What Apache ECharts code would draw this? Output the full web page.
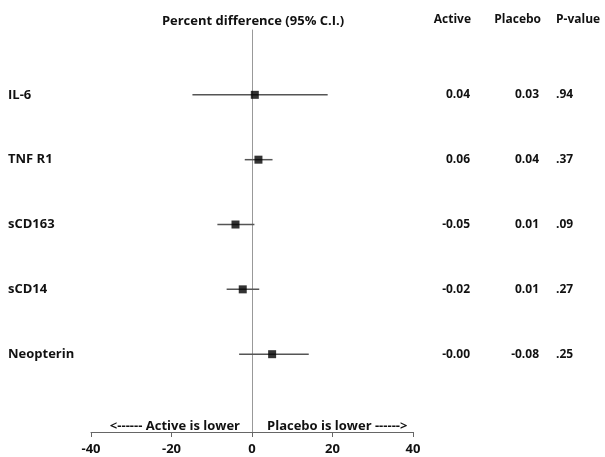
<!DOCTYPE html>
<html>
<head>
<meta charset="utf-8">
<script src="https://cdn.jsdelivr.net/npm/echarts@6/dist/echarts.min.js"></script>
<style>html,body{margin:0;padding:0;background:#fff}#c{width:605px;height:457px}</style>
</head>
<body>
<div id="c"></div>
<script>
var markers = ['IL-6', 'TNF R1', 'sCD163', 'sCD14', 'Neopterin'];
var estimate = [0.7, 1.6, -4.1, -2.3, 5.0];
var ciLow = [-14.8, -1.8, -8.6, -6.3, -3.2];
var ciHigh = [18.8, 5.1, 0.6, 1.8, 14.1];
var activeCol = ['0.04', '0.06', '-0.05', '-0.02', '-0.00'];
var placeboCol = ['0.03', '0.04', '0.01', '0.01', '-0.08'];
var pValueCol = ['.94', '.37', '.09', '.27', '.25'];
var xTicks = [-40, -20, 0, 20, 40];

var FONT = '"Open Sans", "DejaVu Sans", sans-serif';
var n = markers.length;
var rowY = markers.map(function (_, i) { return n - i; });

var chart = echarts.init(document.getElementById('c'), null, {renderer: 'canvas'});

var ciData = markers.map(function (m, i) { return [ciLow[i], ciHigh[i], rowY[i]]; });
var ptData = markers.map(function (m, i) { return [estimate[i], rowY[i]]; });
var textData = markers.map(function (m, i) { return [0, rowY[i], i]; });

chart.setOption({
  animation: false,
  grid: {left: 91, right: 192, top: 30, bottom: 25, containLabel: false},
  xAxis: {
    type: 'value', min: -40, max: 40, interval: 20,
    axisLine: {onZero: false, lineStyle: {color: '#666', width: 1}},
    axisTick: {show: true, inside: false, length: 5, lineStyle: {color: '#666'}},
    axisLabel: {color: '#111', fontFamily: FONT, fontWeight: 'bold', fontSize: 13, margin: 11,
      formatter: function (v) { return xTicks.indexOf(v) >= 0 ? String(v) : ''; }},
    splitLine: {show: false}
  },
  yAxis: {
    type: 'value', min: -0.2, max: 6,
    axisLine: {show: true, onZero: true, lineStyle: {color: '#999', width: 1}},
    axisTick: {show: false}, axisLabel: {show: false}, splitLine: {show: false}
  },
  graphic: [
    {type: 'text', style: {text: 'Percent difference (95% C.I.)', x: 253, y: 21, align: 'center', verticalAlign: 'middle', font: 'bold 13px ' + FONT, fill: '#111'}},
    {type: 'text', style: {text: 'Active', x: 471, y: 20, align: 'right', verticalAlign: 'middle', font: 'bold 12px ' + FONT, fill: '#111'}},
    {type: 'text', style: {text: 'Placebo', x: 541, y: 20, align: 'right', verticalAlign: 'middle', font: 'bold 12px ' + FONT, fill: '#111'}},
    {type: 'text', style: {text: 'P-value', x: 556, y: 20, align: 'left', verticalAlign: 'middle', font: 'bold 12px ' + FONT, fill: '#111'}},
    {type: 'text', style: {text: '<------ Active is lower', x: 240, y: 426, align: 'right', verticalAlign: 'middle', font: 'bold 13px ' + FONT, fill: '#111'}},
    {type: 'text', style: {text: 'Placebo is lower ------>', x: 267, y: 426, align: 'left', verticalAlign: 'middle', font: 'bold 13px ' + FONT, fill: '#111'}}
  ],
  series: [
    {
      type: 'custom',
      data: ciData,
      renderItem: function (params, api) {
        var a = api.coord([api.value(0), api.value(2)]);
        var b = api.coord([api.value(1), api.value(2)]);
        return {type: 'line', shape: {x1: a[0], y1: a[1], x2: b[0], y2: b[1]},
          style: {stroke: '#555', lineWidth: 1.5}};
      },
      z: 3
    },
    {
      type: 'scatter',
      data: ptData,
      symbol: 'rect',
      symbolSize: 8,
      itemStyle: {color: '#000'},
      z: 4
    },
    {
      type: 'custom',
      data: textData,
      clip: false,
      renderItem: function (params, api) {
        var i = api.value(2);
        var y = api.coord([0, api.value(1)])[1];
        var f = 'bold 12px ' + FONT;
        return {type: 'group', children: [
          {type: 'text', style: {text: markers[i], x: 8, y: y, align: 'left', verticalAlign: 'middle', font: 'bold 13px ' + FONT, fill: '#111'}},
          {type: 'text', style: {text: activeCol[i], x: 470, y: y, align: 'right', verticalAlign: 'middle', font: f, fill: '#111'}},
          {type: 'text', style: {text: placeboCol[i], x: 539, y: y, align: 'right', verticalAlign: 'middle', font: f, fill: '#111'}},
          {type: 'text', style: {text: pValueCol[i], x: 556, y: y, align: 'left', verticalAlign: 'middle', font: f, fill: '#111'}}
        ]};
      },
      z: 5
    }
  ]
});
</script>
</body>
</html>
